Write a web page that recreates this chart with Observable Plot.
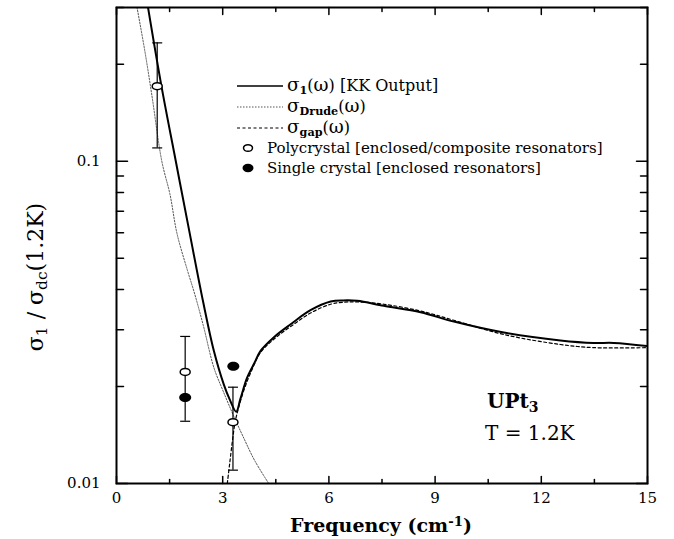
<!DOCTYPE html>
<html><head><meta charset="utf-8">
<script src="https://cdn.jsdelivr.net/npm/d3@7"></script>
<script src="https://cdn.jsdelivr.net/npm/@observablehq/plot@0.6"></script>
<style>body{margin:0;background:#fff;} svg{display:block;}</style>
</head><body><div id="chart"></div>
<script>
// KK output sigma_1(omega) / sigma_dc
const kkFreq  = [0.88, 1.27, 1.67, 2.07, 2.45, 2.75, 3.03, 3.2, 3.38, 3.5, 3.69, 3.9, 4.07, 4.44, 4.92, 5.48, 6.05, 6.4, 6.8, 7.55, 8.59, 9.53, 10.94, 12.54, 13.48, 14.05, 15];
const kkSigma = [0.305, 0.171, 0.1007, 0.0596, 0.0365, 0.0258, 0.0203, 0.0182, 0.0167, 0.0183, 0.0213, 0.0237, 0.0258, 0.0284, 0.0312, 0.0345, 0.0367, 0.0370, 0.0369, 0.0356, 0.0340, 0.0318, 0.0294, 0.0278, 0.0273, 0.0273, 0.0267];
// Drude component
const drudeFreq  = [0.58, 0.8, 1.0, 1.28, 1.51, 1.71, 2.0, 2.21, 2.45, 2.75, 3.0, 3.31, 3.6, 3.9, 4.3];
const drudeSigma = [0.30, 0.22, 0.16, 0.100, 0.079, 0.0596, 0.046, 0.0387, 0.031, 0.0229, 0.0195, 0.0162, 0.0138, 0.0118, 0.0100];
// gap component
const gapFreq  = [3.13, 3.2, 3.28, 3.35, 3.45, 3.6, 3.8, 4.07, 4.44, 4.92, 5.48, 6.05, 6.4, 6.8, 7.55, 8.59, 9.53, 10.94, 12.54, 13.48, 15];
const gapSigma = [0.0100, 0.0116, 0.0137, 0.0155, 0.0172, 0.0195, 0.0222, 0.0255, 0.0280, 0.0307, 0.0338, 0.0360, 0.0365, 0.0366, 0.0360, 0.0343, 0.0321, 0.0290, 0.0270, 0.0264, 0.0264];
// Polycrystal (open circles) with error bars
const polyFreq  = [1.15, 1.94, 3.29];
const polySigma = [0.171, 0.0222, 0.0155];
const polyLow   = [0.110, 0.0156, 0.0110];
const polyHigh  = [0.233, 0.0286, 0.0199];
// Single crystal (filled circles)
const singleFreq  = [1.94, 3.30];
const singleSigma = [0.0185, 0.0231];
// ticks
const xMajor = [0, 3, 6, 9, 12, 15];
const xMinor = [1.5, 4.5, 7.5, 10.5, 13.5];
const yMajor = [0.01, 0.1];
const yMinor = [0.02, 0.03, 0.04, 0.05, 0.06, 0.07, 0.08, 0.09, 0.2, 0.3];

const legendItems = ["σ1(ω) [KK Output]", "σDrude(ω)", "σgap(ω)", "Polycrystal [enclosed/composite resonators]", "Single crystal [enclosed resonators]"];

const capSymbol = {draw(ctx, size) { const r = Math.sqrt(size / Math.PI); ctx.moveTo(-r, 0); ctx.lineTo(r, 0); }};
function ellipseSymbol(ay) {
  return {draw(ctx, size) {
    const r = Math.sqrt(size / Math.PI), rx = r, ry = r * ay, k = 0.5523;
    ctx.moveTo(rx, 0);
    ctx.bezierCurveTo(rx, ry * k, rx * k, ry, 0, ry);
    ctx.bezierCurveTo(-rx * k, ry, -rx, ry * k, -rx, 0);
    ctx.bezierCurveTo(-rx, -ry * k, -rx * k, -ry, 0, -ry);
    ctx.bezierCurveTo(rx * k, -ry, rx, -ry * k, rx, 0);
    ctx.closePath();
  }};
}
const tickShape = {draw(ctx, l) { ctx.moveTo(0, 0); ctx.lineTo(0, -l); }};
const tx = (data, anchor, len, rot) => Plot.vector(data, {x: d => d, frameAnchor: anchor, length: len, rotate: rot, anchor: "start", shape: tickShape, stroke: "black", strokeWidth: 1.5});
const ty = (data, anchor, len, rot) => Plot.vector(data, {y: d => d, frameAnchor: anchor, length: len, rotate: rot, anchor: "start", shape: tickShape, stroke: "black", strokeWidth: 1.5});

const plot = Plot.plot({
  width: 674, height: 539,
  marginLeft: 116, marginRight: 27, marginTop: 7, marginBottom: 56,
  x: {domain: [0, 15]},
  y: {type: "log", domain: [0.01, 0.3]},
  style: {fontFamily: "DejaVu Serif", fontSize: "15px", color: "black", background: "white"},
  marks: [
    Plot.line(drudeFreq, {x: drudeFreq, y: drudeSigma, stroke: "#555", strokeWidth: 1, strokeDasharray: "1.5,1.5", curve: "catmull-rom", clip: true}),
    Plot.line(gapFreq, {x: gapFreq, y: gapSigma, stroke: "black", strokeWidth: 1.2, strokeDasharray: "3,2.5", curve: "catmull-rom", clip: true}),
    Plot.line(kkFreq, {x: kkFreq, y: kkSigma, stroke: "black", strokeWidth: 2, curve: "catmull-rom", clip: true}),
    Plot.ruleX(polyFreq, {x: polyFreq, y1: polyLow, y2: polyHigh, stroke: "black", strokeWidth: 1.2}),
    Plot.dot(polyFreq, {x: polyFreq, y: polyLow, symbol: capSymbol, r: 5, stroke: "black", strokeWidth: 1.2, fill: "none"}),
    Plot.dot(polyFreq, {x: polyFreq, y: polyHigh, symbol: capSymbol, r: 5, stroke: "black", strokeWidth: 1.2, fill: "none"}),
    Plot.dot(polyFreq, {x: polyFreq, y: polySigma, symbol: ellipseSymbol(0.7), r: 5, stroke: "black", strokeWidth: 1.5, fill: "white"}),
    Plot.dot(singleFreq, {x: singleFreq, y: singleSigma, symbol: ellipseSymbol(0.75), r: 6, fill: "black", stroke: "none"}),
    // tick labels
    Plot.axisX(xMajor, {anchor: "bottom", tickSize: 0, tickPadding: 9, label: null, tickFormat: d => String(d), fontSize: 15}),
    Plot.axisY(yMajor, {anchor: "left", tickSize: 0, tickPadding: 16, label: null, tickFormat: d => String(d), fontSize: 15}),
    // inward ticks
    tx(xMajor, "bottom", 7, 0), tx(xMinor, "bottom", 4, 0),
    tx(xMajor, "top", 7, 180), tx(xMinor, "top", 4, 180),
    ty(yMajor, "left", 11, 90), ty(yMinor, "left", 7, 90),
    ty(yMajor, "right", 11, -90), ty(yMinor, "right", 7, -90),
    Plot.frame({stroke: "black", strokeWidth: 2})
  ]
});
document.getElementById("chart").appendChild(plot);

// Titles, legend and annotation (text with sub/superscripts)
const svg = d3.select(plot);
const serif = "DejaVu Serif";
function richText(g, x, y, parts, opts = {}) {
  const t = g.append("text").attr("x", x).attr("y", y)
    .attr("font-family", serif).attr("font-size", opts.size || 14)
    .attr("font-weight", opts.weight || "normal").attr("fill", "black")
    .attr("text-anchor", opts.anchor || "start");
  if (opts.transform) t.attr("transform", opts.transform);
  for (const [s, kind] of parts) {
    const ts = t.append("tspan").text(s);
    if (kind === "sub" || kind === "subb") ts.attr("font-size", "70%").attr("baseline-shift", "-28%");
    if (kind === "subb") ts.attr("font-weight", "bold");
    if (kind === "sup") ts.attr("font-size", "70%").attr("baseline-shift", "45%");
    if (kind === "greek") ts.attr("font-size", "115%");
  }
  return t;
}
const g = svg.append("g");
// x label
richText(g, 381, 532, [["Frequency (cm", ""], ["-1", "sup"], [")", ""]], {size: 19, anchor: "middle", weight: "bold"});
// y label
richText(g, 0, 0, [["σ", ""], ["1", "sub"], [" / σ", ""], ["dc", "sub"], ["(1.2K)", ""]], {size: 22, anchor: "middle", transform: "translate(43,277) rotate(-90)"});
// annotation
richText(g, 487, 408, [["UPt", ""], ["3", "sub"]], {size: 20, weight: "bold"});
richText(g, 485, 440, [["T = 1.2K", ""]], {size: 20});

// legend
const rows = [86, 107, 128, 148, 168];
const L = svg.append("g");
L.append("line").attr("x1", 237).attr("x2", 283).attr("y1", rows[0]).attr("y2", rows[0]).attr("stroke", "black").attr("stroke-width", 1.6);
L.append("line").attr("x1", 237).attr("x2", 283).attr("y1", rows[1]).attr("y2", rows[1]).attr("stroke", "#555").attr("stroke-width", 1).attr("stroke-dasharray", "1.5,1.5");
L.append("line").attr("x1", 237).attr("x2", 283).attr("y1", rows[2]).attr("y2", rows[2]).attr("stroke", "black").attr("stroke-width", 1.1).attr("stroke-dasharray", "3,2.5");
L.append("ellipse").attr("cx", 248).attr("cy", rows[3]).attr("rx", 4.5).attr("ry", 3.3).attr("fill", "white").attr("stroke", "black").attr("stroke-width", 1.5);
L.append("ellipse").attr("cx", 248).attr("cy", rows[4]).attr("rx", 5.5).attr("ry", 4.2).attr("fill", "black");
const lp = [
  [["σ", "greek"], ["1", "subb"], ["(", ""], ["ω", "greek"], [") [KK Output]", ""]],
  [["σ", "greek"], ["Drude", "subb"], ["(", ""], ["ω", "greek"], [")", ""]],
  [["σ", "greek"], ["gap", "subb"], ["(", ""], ["ω", "greek"], [")", ""]],
  [[legendItems[3], ""]],
  [[legendItems[4], ""]]
];
lp.forEach((parts, i) => {
  richText(L, i < 3 ? 287 : 267, rows[i] + 5, parts, {size: i < 3 ? 16 : 15});
});
</script>
</body></html>
